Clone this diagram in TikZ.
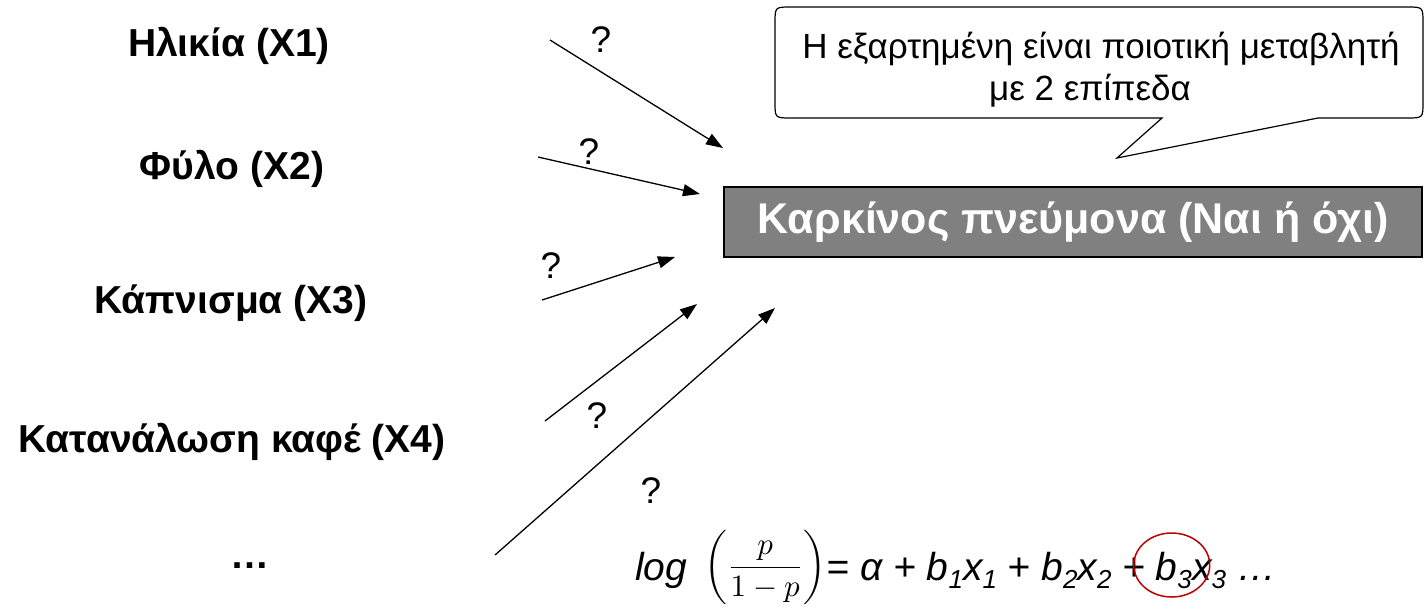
\documentclass[tikz,border=0pt]{standalone}
\usepackage{fontspec}
\setmainfont{Liberation Sans}
\usetikzlibrary{arrows.meta}
\definecolor{boxgray}{RGB}{128,128,128}
\definecolor{hlred}{RGB}{192,0,0}
\newcommand{\sbx}[1]{\raisebox{-8pt}{\fontsize{26}{26}\selectfont #1}}
\begin{document}
\begin{tikzpicture}[x=1pt,y=-1pt,
  lbl/.style={font=\fontsize{39}{46}\selectfont\bfseries, anchor=base, inner sep=0},
  qm/.style={font=\fontsize{37}{40}\selectfont, inner sep=0},
  arr/.style={-{Triangle[length=17pt,width=12pt]}, line width=1.3pt},
  notetxt/.style={font=\fontsize{35}{40}\selectfont, anchor=base, inner sep=0},
  eqt/.style={font=\fontsize{39}{44}\selectfont\itshape, inner sep=0, anchor=base west}]
\useasboundingbox (0,0) rectangle (1426,611);
% predictor labels
\node[lbl] (x1) at (229,56) {Ηλικία (Χ1)};
\node[lbl] (x2) at (232,179) {Φύλο (Χ2)};
\node[lbl] (x3) at (231,313) {Κάπνισμα (Χ3)};
\node[lbl] (x4) at (232,452) {Κατανάλωση καφέ (Χ4)};
\node[lbl] (x5) at (250,568) {…};
% outcome box
\node[draw=black, line width=1.3pt, fill=boxgray, text=white,
      font=\fontsize{43}{50}\selectfont\bfseries, inner sep=0,
      minimum width=698pt, minimum height=70pt] (y) at (1073,222) {Καρκίνος πνεύμονα (Ναι ή όχι)};
% callout
\draw[line width=1.2pt, fill=white] (791,7) -- (1407,7) .. controls (1423,7) .. (1423,23) -- (1423,102)
   .. controls (1423,118) .. (1407,118) -- (1318,118) -- (1117,158) -- (1162,118) -- (791,118)
   .. controls (775,118) .. (775,102) -- (775,23) .. controls (775,7) .. (791,7) -- cycle;
\node[notetxt] (note1) at (1101,58) {Η εξαρτημένη είναι ποιοτική μεταβλητή};
\node[notetxt] (note2) at (1090,100) {με 2 επίπεδα};
% arrows
\coordinate (s1) at (550,40);  \coordinate (e1) at (723,148);
\coordinate (s2) at (538,157); \coordinate (e2) at (700,194);
\coordinate (s3) at (542,300); \coordinate (e3) at (675,257);
\coordinate (s4) at (545,421); \coordinate (e4) at (697,304);
\coordinate (s5) at (495,555); \coordinate (e5) at (775,308);
\draw[arr] (s1) -- (e1);
\draw[arr] (s2) -- (e2);
\draw[arr] (s3) -- (e3);
\draw[arr] (s4) -- (e4);
\draw[arr] (s5) -- (e5);
\node[qm] (q1) at (601,40) {?};
\node[qm] (q2) at (589,152) {?};
\node[qm] (q3) at (551,266) {?};
\node[qm] (q4) at (597,416) {?};
\node[qm] (q5) at (651,491) {?};
% equation
\node[eqt] (log) at (635,580) {log};
\node[inner sep=0, anchor=base west] (frac) at (704,575)
   {\scalebox{3.1}{$\displaystyle\left(\frac{p}{1-p}\right)$}};
\node[eqt] (eqa) at (frac.east |- log.base) {= α + b\sbx{1}x\sbx{1} + b\sbx{2}x\sbx{2} +};
\node[eqt, xshift=10pt] (b3) at (eqa.base east) {b\sbx{3}};
\node[eqt] (eqb) at (b3.base east) {x\sbx{3} …};
\draw[hlred, line width=1.5pt] ([yshift=15pt, xshift=-2pt]b3.base) ellipse [x radius=38pt, y radius=32pt];
\end{tikzpicture}
\end{document}
